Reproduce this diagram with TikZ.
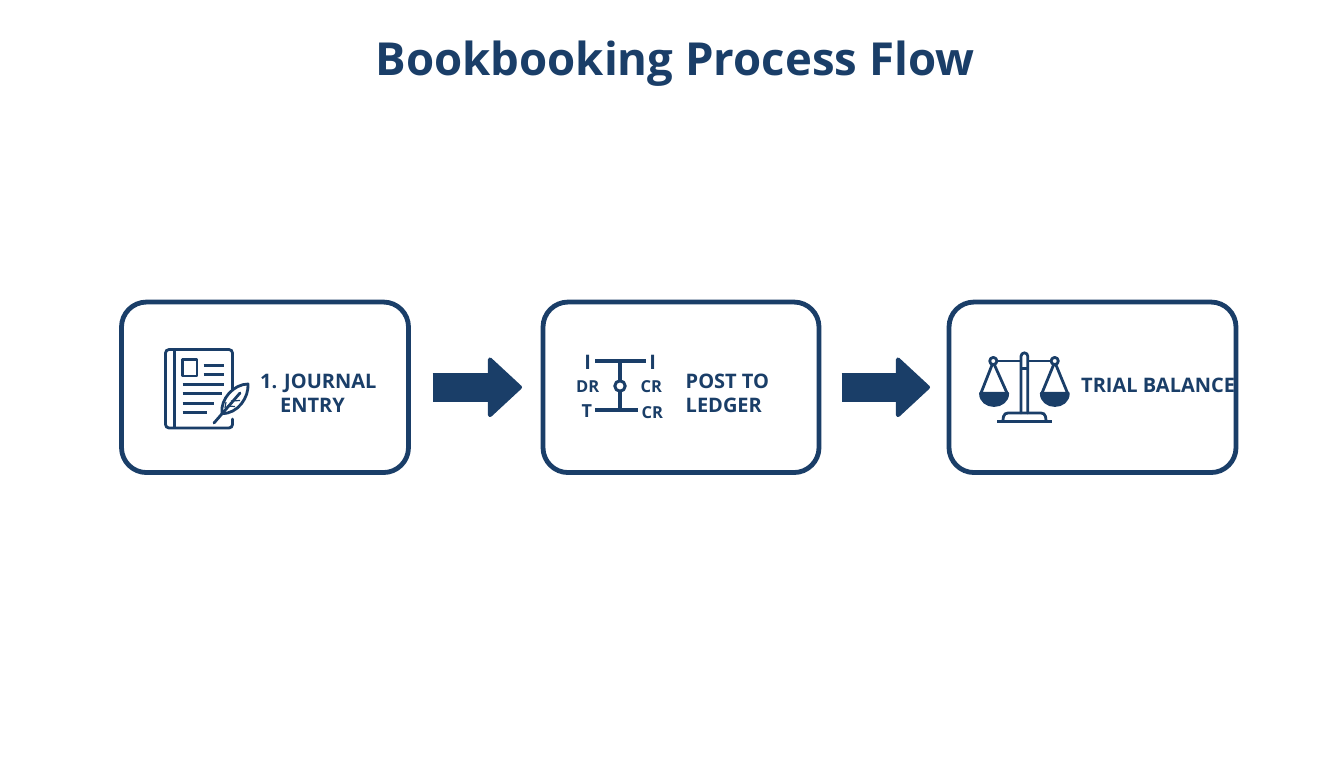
\documentclass[tikz,border=0pt]{standalone}
\usepackage{fontspec}
\setmainfont{Open Sans}
\usetikzlibrary{arrows.meta}
\definecolor{navy}{HTML}{1A3E68}
\tikzset{
  card/.style={draw=navy,line width=4.8pt,rounded corners=25pt,fill=white,inner sep=0pt,outer sep=0pt},
  flow/.style={draw=navy,line width=29.5pt,-{Triangle[length=35pt,width=64pt,line width=4pt,round,fill=navy]}},
  lbl/.style={text=navy,font=\fontsize{20}{24}\selectfont\bfseries,inner sep=0pt,anchor=base west},
  small/.style={text=navy,font=\fontsize{16.5}{18}\selectfont\bfseries,inner sep=0pt,anchor=base west},
  ico/.style={draw=navy,line width=2.8pt,line cap=round,line join=round}
}
\begin{document}
\begin{tikzpicture}[x=1pt,y=-1pt]
\useasboundingbox (0,0) rectangle (1344,768);
\fill[white] (0,0) rectangle (1344,768);
\node[text=navy,font=\fontsize{45.5}{50}\selectfont\bfseries,inner sep=0pt,anchor=base] (title) at (675,75) {Bookbooking Process Flow};
% cards
\node[card,minimum width=287pt,minimum height=170.5pt,anchor=center] (b1) at (265,387.3) {};
\node[card,minimum width=276pt,minimum height=170.5pt,anchor=center] (b2) at (681,387.3) {};
\node[card,minimum width=287pt,minimum height=170.5pt,anchor=center] (b3) at (1092.5,387.3) {};
% connectors
\draw[flow,shorten <=24pt,shorten >=21pt] (b1.east) -- (b2.west);
\draw[flow,shorten <=22.5pt,shorten >=19pt] (b2.east) -- (b3.west);
% book icon
\draw[ico,rounded corners=3.5pt] (232.5,392) -- (232.5,349.5) -- (165.5,349.5) -- (165.5,428) -- (232.5,428) -- (232.5,419);
\draw[ico,line cap=butt] (174.5,349.5) -- (174.5,428);
\draw[ico,line cap=butt] (182.5,359.5) rectangle (197,376);
\draw[ico,line cap=butt] (203.5,365.3) -- (224,365.3) (203.5,374.7) -- (224,374.7)
  (182.5,384.3) -- (224,384.3) (182.5,393.7) -- (222,393.7) (182.5,403.3) -- (214,403.3) (182.5,412.7) -- (207,412.7);
% feather
\draw[ico,fill=white] (222,413.5) .. controls (220,399) and (234,384) .. (248,384) .. controls (249,397) and (238,414) .. (222,413.5) -- cycle;
\draw[ico] (214,423) -- (240,393);
\draw[navy,line width=1.2pt] (227,406) -- (235,406.5) (231,401) -- (240,400.5) (226,402) -- (225,408);
% T-account icon
\draw[ico,line cap=butt,line width=3.2pt] (595,361) -- (645.5,361) (595,410) -- (638,410);
\draw[ico,line cap=butt,line width=3.2pt] (620,361) -- (620,380.5) (620,391.5) -- (620,410);
\draw[ico,line width=3pt] (620,386) circle[radius=5.2];
\node[lbl,font=\fontsize{20}{22}\selectfont\bfseries] (t1) at (584.2,369.5) {I};
\node[lbl,font=\fontsize{20}{22}\selectfont\bfseries] (t2) at (649.2,369.5) {I};
\node[small] (t3) at (576,392) {DR};
\node[small] (t4) at (640.5,392) {CR};
\node[small,font=\fontsize{18}{20}\selectfont\bfseries] (t5) at (581.5,417.5) {T};
\node[small] (t6) at (641.5,418) {CR};
% scale icon
\draw[ico] (997,361) -- (1020,361) (1029,361) -- (1051,361);
\draw[ico,fill=white] (993.3,361) circle[radius=3.6];
\draw[ico,fill=white] (1054.7,361) circle[radius=3.6];
\draw[ico,fill=white,rounded corners=3.5pt] (1021,413) -- (1021,352.8) -- (1027.8,352.8) -- (1027.8,413);
\draw[navy,line width=3pt] (1021,368) -- (1027.8,368);
\draw[ico] (992,365) -- (981,393) (994.5,365) -- (1007,393);
\draw[ico] (1053.5,365) -- (1042,393) (1056,365) -- (1067.5,393);
\draw[ico,fill=navy] (980.5,393.3) -- (1007.7,393.3) .. controls (1007.7,401) and (1001,405.5) .. (994,405.5) .. controls (987,405.5) and (980.5,401) .. (980.5,393.3) -- cycle;
\draw[ico,fill=navy] (1041.3,393.3) -- (1068.3,393.3) .. controls (1068.3,401) and (1062,405.5) .. (1054.8,405.5) .. controls (1048,405.5) and (1041.3,401) .. (1041.3,393.3) -- cycle;
\draw[ico] (1003,420) -- (1003.5,416.5) .. controls (1004,414) and (1006,413) .. (1008,413) -- (1041,413) .. controls (1043,413) and (1045,414) .. (1045.5,416.5) -- (1046,420);
\draw[ico,line cap=butt,line width=3pt] (997,421) -- (1051.7,421);
% labels
\node[lbl] (l1a) at (260,388) {1. JOURNAL};
\node[lbl] (l1b) at (280,412) {ENTRY};
\node[lbl] (l2a) at (685.5,388) {POST TO};
\node[lbl] (l2b) at (685.5,412) {LEDGER};
\node[lbl] (l3) at (1081,392.5) {TRIAL BALANCE};
\end{tikzpicture}
\end{document}
